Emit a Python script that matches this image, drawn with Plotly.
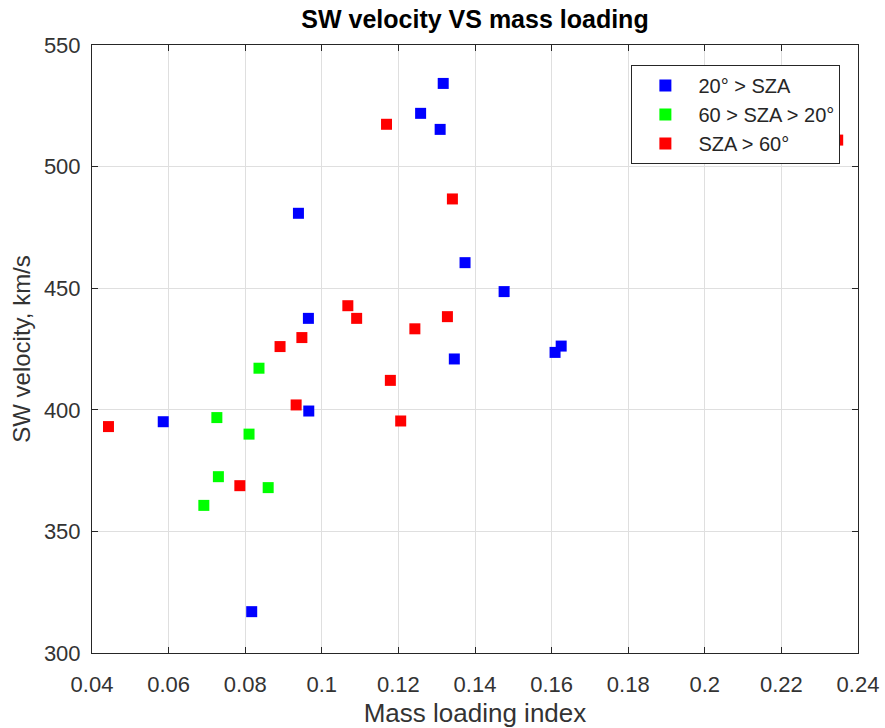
import plotly.graph_objects as go

# Mass loading index (x) and SW velocity (km/s, y) per SZA group
blue_x = [0.0586, 0.0817, 0.0939, 0.0965, 0.0966, 0.1258, 0.1309, 0.1317, 0.1346, 0.1374, 0.1476, 0.1609, 0.1625]
blue_y = [395.1, 317.0, 480.8, 437.6, 399.5, 521.9, 515.3, 534.2, 420.9, 460.5, 448.6, 423.6, 426.2]

green_x = [0.0692, 0.0726, 0.0730, 0.0810, 0.0836, 0.0860]
green_y = [360.7, 396.8, 372.5, 390.0, 417.1, 368.0]

red_x = [0.0443, 0.0786, 0.0891, 0.0933, 0.0948, 0.1068, 0.1091, 0.1169, 0.1179, 0.1206, 0.1243, 0.1328, 0.1341, 0.2347]
red_y = [393.1, 368.8, 426.0, 402.0, 429.7, 442.8, 437.6, 517.4, 412.1, 395.4, 433.3, 438.3, 486.7, 510.9]

names = ["20\u00b0 > SZA", "60 > SZA > 20\u00b0", "SZA > 60\u00b0"]
x_ticks = [0.04, 0.06, 0.08, 0.1, 0.12, 0.14, 0.16, 0.18, 0.2, 0.22, 0.24]
x_ticklabels = ["0.04", "0.06", "0.08", "0.1", "0.12", "0.14", "0.16", "0.18", "0.2", "0.22", "0.24"]
y_ticks = [300, 350, 400, 450, 500, 550]

FONT = "Liberation Sans, Arial, Helvetica, sans-serif"
AX = "#262626"

fig = go.Figure()
for xs, ys, col, nm, rank in [
    (red_x, red_y, "#ff0000", names[2], 3),
    (green_x, green_y, "#00ff00", names[1], 2),
    (blue_x, blue_y, "#0000ff", names[0], 1),
]:
    fig.add_trace(go.Scatter(
        x=xs, y=ys, mode="markers", name=nm, legendrank=rank,
        marker=dict(symbol="square", size=11, color=col, line=dict(width=0)),
        cliponaxis=True,
    ))

axis_common = dict(
    showline=True, linecolor=AX, linewidth=1, mirror="ticks",
    ticks="inside", ticklen=6, tickcolor=AX, tickwidth=1,
    showgrid=True, gridcolor="#dfdfdf", gridwidth=1,
    zeroline=False,
    tickfont=dict(family=FONT, size=22, color="#333333"),
)

fig.update_xaxes(
    range=[0.04, 0.24], tickvals=x_ticks, ticktext=x_ticklabels,
    title=dict(text="Mass loading index", font=dict(family=FONT, size=26, color="#333333"), standoff=8),
    ticklabelstandoff=12,
    **axis_common,
)
fig.update_yaxes(
    range=[300, 550], tickvals=y_ticks,
    title=dict(text="SW velocity, km/s", font=dict(family=FONT, size=24, color="#333333"), standoff=6),
    ticklabelstandoff=6,
    **axis_common,
)

fig.update_layout(
    width=885, height=728,
    margin=dict(l=92, r=27, t=45, b=75, autoexpand=False),
    paper_bgcolor="white", plot_bgcolor="white",
    title=dict(text="<b>SW velocity VS mass loading</b>", x=(92 + 858) / 2 / 885, xanchor="center",
               y=1 - 19 / 728, yanchor="middle", yref="container",
               font=dict(family=FONT, size=25, color="#000000")),
    legend=dict(
        x=0.977, y=0.967, xanchor="right", yanchor="top",
        bgcolor="white", bordercolor=AX, borderwidth=1,
        font=dict(family=FONT, size=20, color="#262626"),
        tracegroupgap=0, itemsizing="constant", itemwidth=56,
    ),
    showlegend=True,
)

fig.write_html("out.html")
